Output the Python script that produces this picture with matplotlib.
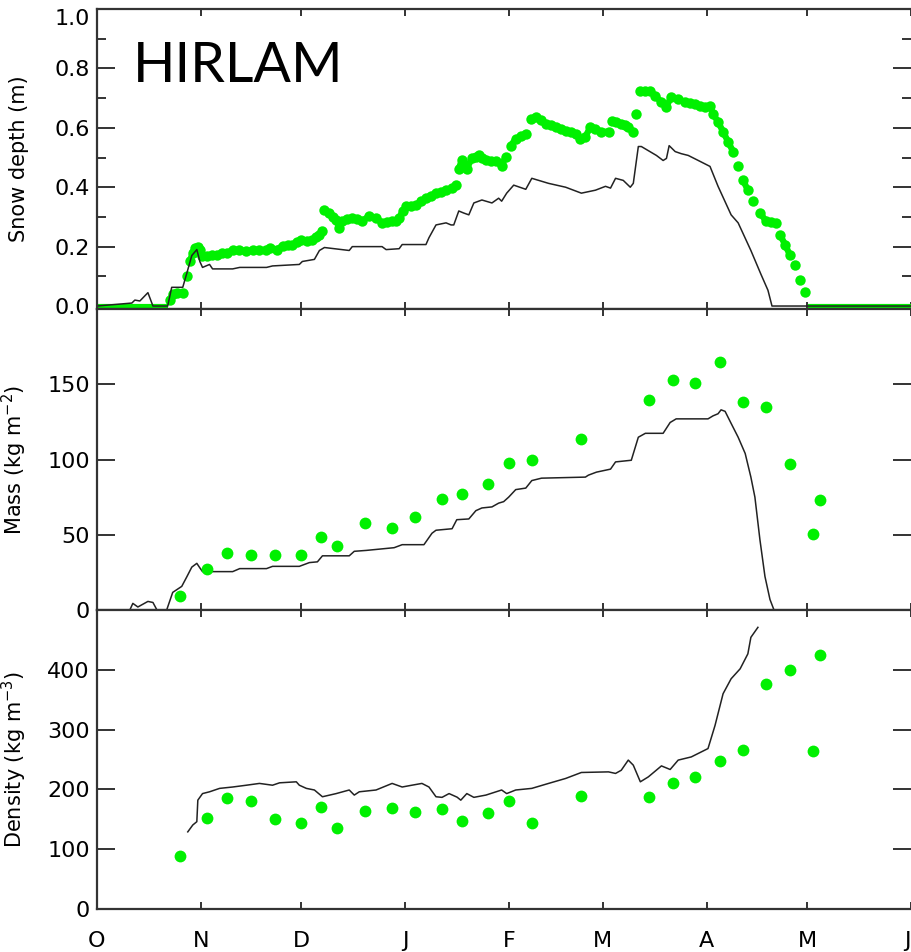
import numpy as np
import matplotlib
matplotlib.use('Agg')
import matplotlib.pyplot as plt
from matplotlib.ticker import MultipleLocator

# days since 1 October
month_days = [0, 31, 61, 92, 123, 151, 182, 212, 243]
month_labels = ['O', 'N', 'D', 'J', 'F', 'M', 'A', 'M', 'J']

# --- snow depth (m) ---
model_depth_days = [0, 10.4, 11.3, 12.8, 15.2, 16.7, 21.1, 22.3, 25.6, 26.8, 28.3, 29.8, 30.7, 31.5,
                    33.6, 34.5, 40.5, 42.6, 50.6, 52.4, 60.4, 61.3, 64.9, 66.4, 67.9, 75.3, 76.2,
                    85.1, 86.3, 90.2, 91.1, 98.2, 99.1, 101.2, 104.2, 105.7, 106.5, 108.0, 109.5,
                    111.0, 112.5, 114.9, 117.9, 119.9, 120.8, 122.3, 124.4, 128.0, 129.8, 134.8,
                    139.9, 144.6, 148.8, 151.8, 153.3, 154.8, 157.1, 159.2, 160.1, 161.6, 162.5,
                    164.6, 167.0, 169.0, 170.0, 170.8, 172.6, 174.4, 176.5, 179.5, 183.0, 185.4,
                    189.3, 191.4, 195.2, 198.2, 200.3, 201.5, 243]
model_depth = [0, 0.01, 0.02, 0.017, 0.045, 0.0, 0.0, 0.063, 0.063, 0.11, 0.17, 0.19, 0.15, 0.13,
               0.14, 0.125, 0.125, 0.13, 0.13, 0.135, 0.14, 0.15, 0.157, 0.187, 0.197, 0.187, 0.2,
               0.2, 0.19, 0.193, 0.207, 0.207, 0.23, 0.273, 0.28, 0.273, 0.273, 0.32, 0.313,
               0.307, 0.347, 0.357, 0.347, 0.363, 0.353, 0.38, 0.407, 0.393, 0.43, 0.413,
               0.4, 0.38, 0.39, 0.403, 0.397, 0.43, 0.423, 0.4, 0.413, 0.537, 0.537,
               0.523, 0.507, 0.49, 0.497, 0.54, 0.52, 0.513, 0.507, 0.49, 0.47, 0.403,
               0.307, 0.28, 0.187, 0.107, 0.053, 0.0, 0.0]

obs_depth_days = [0, 2, 4, 6, 8, 10, 12, 14, 16, 18, 20, 21.1,
                  21.7, 22.6, 24.0, 25.6, 26.8, 27.7, 28.6, 29.4, 30.1, 30.7, 31.3, 32.7, 34.2,
                  35.7, 37.2, 38.7, 40.5, 42.5, 44.5, 46.5, 48.5, 50.6, 51.5, 53.6, 55.4, 57.0,
                  58.3, 59.7, 61.0, 62.8, 64.3, 65.5, 66.4, 67.3, 67.9, 69.3, 70.5, 71.4, 72.3,
                  73.2, 74.7, 76.2, 77.7, 79.2, 81.3, 83.3, 85.1, 86.5, 88.0, 89.3, 90.2, 91.3,
                  92.3, 93.7, 95.2, 96.7, 98.2, 99.7, 101.2, 102.7, 104.2, 106.0, 107.1, 108.0,
                  108.9, 110.4, 111.9, 113.0, 114.0, 115.0, 116.1, 117.5, 119.0, 120.8, 122.0,
                  123.5, 125.0, 126.5, 128.0, 129.5, 131.0, 132.5, 133.9, 135.4, 136.9, 138.4,
                  139.9, 141.4, 142.9, 144.3, 145.8, 147.3, 148.8, 150.6, 152.7, 153.6, 155.0,
                  156.3, 157.5, 158.6, 160.1, 161.0, 162.2, 163.7, 165.2, 166.7, 168.5, 169.9,
                  171.4, 173.5, 175.6, 177.1, 178.6, 180.0, 181.5, 183.0, 183.9, 185.4, 186.9,
                  188.4, 189.9, 191.4, 192.9, 194.3, 195.8, 197.9, 199.7, 201.2, 202.7, 203.9,
                  205.4, 206.8, 208.3, 209.8, 211.3,
                  212.2, 214, 216, 218, 220, 222, 224, 226, 228, 230, 232, 234, 236, 238, 240, 243]
obs_depth = [0, 0, 0, 0, 0, 0, 0, 0, 0, 0, 0, 0,
             0.02, 0.04, 0.045, 0.045, 0.10, 0.15, 0.18, 0.195, 0.2, 0.187, 0.17, 0.17, 0.172,
             0.173, 0.177, 0.18, 0.187, 0.187, 0.185, 0.187, 0.188, 0.187, 0.197, 0.19, 0.203, 0.205,
             0.207, 0.215, 0.223, 0.22, 0.223, 0.232, 0.24, 0.253, 0.323, 0.313, 0.30, 0.29, 0.263,
             0.287, 0.292, 0.297, 0.292, 0.287, 0.303, 0.297, 0.28, 0.283, 0.285, 0.287, 0.297, 0.32,
             0.337, 0.338, 0.34, 0.352, 0.363, 0.372, 0.38, 0.385, 0.39, 0.397, 0.407, 0.463,
             0.49, 0.463, 0.497, 0.502, 0.507, 0.50, 0.49, 0.488, 0.487, 0.473, 0.503,
             0.54, 0.563, 0.572, 0.58, 0.63, 0.637, 0.625, 0.613, 0.608, 0.603, 0.597,
             0.59, 0.585, 0.58, 0.563, 0.57, 0.603, 0.597, 0.587, 0.587, 0.623, 0.618,
             0.613, 0.608, 0.603, 0.587, 0.647, 0.723, 0.723, 0.723, 0.707, 0.687, 0.67,
             0.703, 0.697, 0.687, 0.683, 0.68, 0.675, 0.67, 0.673, 0.647, 0.62, 0.587,
             0.553, 0.52, 0.473, 0.423, 0.39, 0.353, 0.313, 0.287, 0.282, 0.28, 0.24,
             0.207, 0.173, 0.137, 0.087, 0.047,
             0, 0, 0, 0, 0, 0, 0, 0, 0, 0, 0, 0, 0, 0, 0, 0]

# --- snow mass (kg m-2) ---
model_mass_days = [0, 9.8, 10.7, 12.2, 15.2, 16.7, 17.9, 20.8, 22.6, 25.3, 26.8, 28.3, 29.8, 30.7,
                   31.5, 40.5, 42.6, 50.6, 52.4, 60.4, 63.4, 65.8, 67.3, 75.3, 76.8, 80.4, 88.7,
                   91.1, 97.6, 100.0, 101.2, 106.0, 107.4, 111.0, 113.1, 114.9, 117.9, 119.9, 121.4,
                   122.9, 125.0, 128.0, 129.8, 132.7, 145.8, 146.7, 149.1, 153.3, 154.8, 159.5,
                   161.6, 163.7, 169.0, 171.1, 172.9, 182.4, 183.9, 185.4, 186.3, 187.5, 189.3,
                   191.4, 193.5, 195.2, 196.4, 197.9, 199.4, 200.9, 202.1, 243]
model_mass = [0, 0, 4.4, 2.0, 5.7, 5.0, 0, 0, 11.7, 15.7, 22, 28.5, 31, 28,
              25.5, 25.5, 27.5, 27.5, 29, 29, 31.5, 32, 36, 36, 39, 39.6, 41.4,
              43.4, 43.4, 51, 53, 54, 60, 60.5, 66, 67.8, 68.5, 71, 72,
              75, 80, 81, 86, 87.6, 88.3, 89.6, 91.6, 93.6, 98.4, 99.5,
              114.8, 117.4, 117.4, 124.6, 127, 127, 129, 130.4, 133, 132, 124,
              114.8, 104, 88.3, 75, 46.7, 22.3, 7, 0, 0]

# snow pit dates, shared by mass and density
pit_days = [24.7, 32.7, 38.7, 46.1, 53.0, 61.0, 67.0, 71.7, 80.1, 88.1, 94.9, 103.0, 108.9,
            116.7, 122.9, 129.8, 144.6, 164.9, 172.0, 178.6, 186.0, 192.9, 199.7, 206.8,
            213.7, 215.8]
pit_mass = [9.1, 27.5, 38, 36.8, 36.8, 36.8, 48.8, 42.7, 58, 54.6, 61.9, 73.8, 77.1,
            83.7, 97.5, 99.5, 113.4, 139.8, 153.0, 151, 165, 138.5, 135.2, 96.9,
            50.6, 73.1]
pit_density = [89, 153, 185, 180.5, 150, 144.4, 171, 135, 164, 169.6, 161.7, 166.7, 147,
               160, 180.5, 144.4, 189.3, 186.7, 211, 220, 247, 265.5, 375.5, 400.5,
               264, 425]

# --- snow density (kg m-3) ---
model_density_days = [27.1, 28.6, 29.8, 30.1, 31.5, 33.6, 36.6, 40.5, 44.6, 48.5, 52.4, 54.5,
                      59.5, 60.4, 62.5, 64.9, 67.3, 71.4, 75.3, 76.8, 78.3, 83.3, 88.1, 91.1,
                      94.0, 97.0, 99.1, 101.2, 103.0, 105.1, 107.5, 108.6, 110.4, 112.5, 116.1,
                      120.8, 122.3, 125.0, 129.8, 134.8, 139.9, 144.6, 152.7, 154.8, 156.5,
                      158.6, 160.1, 162.2, 164.6, 168.5, 171.1, 173.5, 177.4, 180.4, 182.4,
                      184.5, 186.9, 189.3, 192.0, 194.3, 195.2, 197.3]
model_density = [129, 140.5, 146, 182, 193, 196, 201.7, 204, 207, 210, 207, 211,
                 212.7, 207, 201.7, 199, 187.7, 193, 199, 190.5, 196, 199, 210, 204,
                 207, 210, 204, 187.7, 186.7, 193, 187, 182, 193, 186.7, 190.5,
                 199, 193, 199, 201.7, 210, 218.3, 228.3, 229.3, 226.7, 232,
                 249, 240.5, 212.7, 221, 239.3, 233.3, 249, 254.3, 262.7, 268.3,
                 307, 360, 385, 401.7, 426.7, 454.3, 471]

green = '#00f000'
frame = '#333333'

fig = plt.figure(figsize=(9.12, 9.52), dpi=100)
left, width = 97 / 912, 814 / 912
ax1 = fig.add_axes([left, 643 / 952, width, 300 / 952])
ax2 = fig.add_axes([left, 342 / 952, width, 301 / 952])
ax3 = fig.add_axes([left, 43 / 952, width, 299 / 952])

for ax in (ax1, ax2, ax3):
    ax.set_xlim(0, 243)
    ax.set_xticks(month_days)
    ax.tick_params(which='both', direction='in', top=True, bottom=True, left=True, right=True,
                   color=frame, width=1.4)
    ax.tick_params(axis='x', length=5)
    ax.tick_params(axis='y', which='major', length=13, labelsize=16, pad=5)
    ax.tick_params(axis='y', which='minor', length=6.5)
    for s in ax.spines.values():
        s.set_color(frame)
        s.set_linewidth(1.6)
    # right edge of the frame falls off the page
    ax.spines['right'].set_visible(False)
    ax.yaxis.set_label_coords(-0.083, 0.5)

# snow depth
depth = np.array(obs_depth)
obs_d = np.array(obs_depth_days)
ax1.plot(obs_d, np.where(depth > 0, np.nan, depth), color=green, lw=3, solid_capstyle='butt')
# dense obs read as a band: join neighbours, break it at the big jumps
band = depth.copy()
band[depth == 0] = np.nan
jump = np.abs(np.diff(depth, prepend=depth[0])) > 0.035
band_x = np.insert(obs_d, np.where(jump)[0], np.nan)
band_y = np.insert(band, np.where(jump)[0], np.nan)
ax1.plot(band_x, band_y, color=green, lw=4.5, solid_capstyle='round')
ax1.plot(obs_d[depth > 0], depth[depth > 0], 'o', color=green, ms=7.5, mec='none')
ax1.plot(model_depth_days, model_depth, color='#222222', lw=1.1)
ax1.set_ylim(-0.01, 1.0)
ax1.set_yticks([0, 0.2, 0.4, 0.6, 0.8, 1.0])
ylabs = ax1.set_yticklabels(['0.0', '0.2', '0.4', '0.6', '0.8', '1.0'])
ylabs[-1].set_va('top')
ax1.yaxis.set_minor_locator(MultipleLocator(0.1))
ax1.set_ylabel('Snow depth (m)', fontsize=15)
ax1.set_xticklabels([])

# snow mass
ax2.plot(model_mass_days, model_mass, color='#222222', lw=1.1)
ax2.plot(pit_days, pit_mass, 'o', color=green, ms=8.5, mec='none', clip_on=False)
ax2.set_ylim(0, 200)
ax2.set_yticks([0, 50, 100, 150])
ax2.set_ylabel('Mass (kg m$^{-2}$)', fontsize=15)
ax2.set_xticklabels([])

# snow density
ax3.plot(model_density_days, model_density, color='#222222', lw=1.1)
ax3.plot(pit_days, pit_density, 'o', color=green, ms=8.5, mec='none')
ax3.set_ylim(0, 500)
ax3.set_yticks([0, 100, 200, 300, 400])
ax3.set_ylabel('Density (kg m$^{-3}$)', fontsize=15)
xlabs = ax3.set_xticklabels(month_labels, fontsize=16)
xlabs[-1].set_ha('right')
ax3.tick_params(axis='x', pad=16)

fig.text(133 / 912, (952 - 82) / 952, 'HIRLAM', fontsize=40, family='Lato', va='baseline')

fig.savefig('out.png', dpi=100)
